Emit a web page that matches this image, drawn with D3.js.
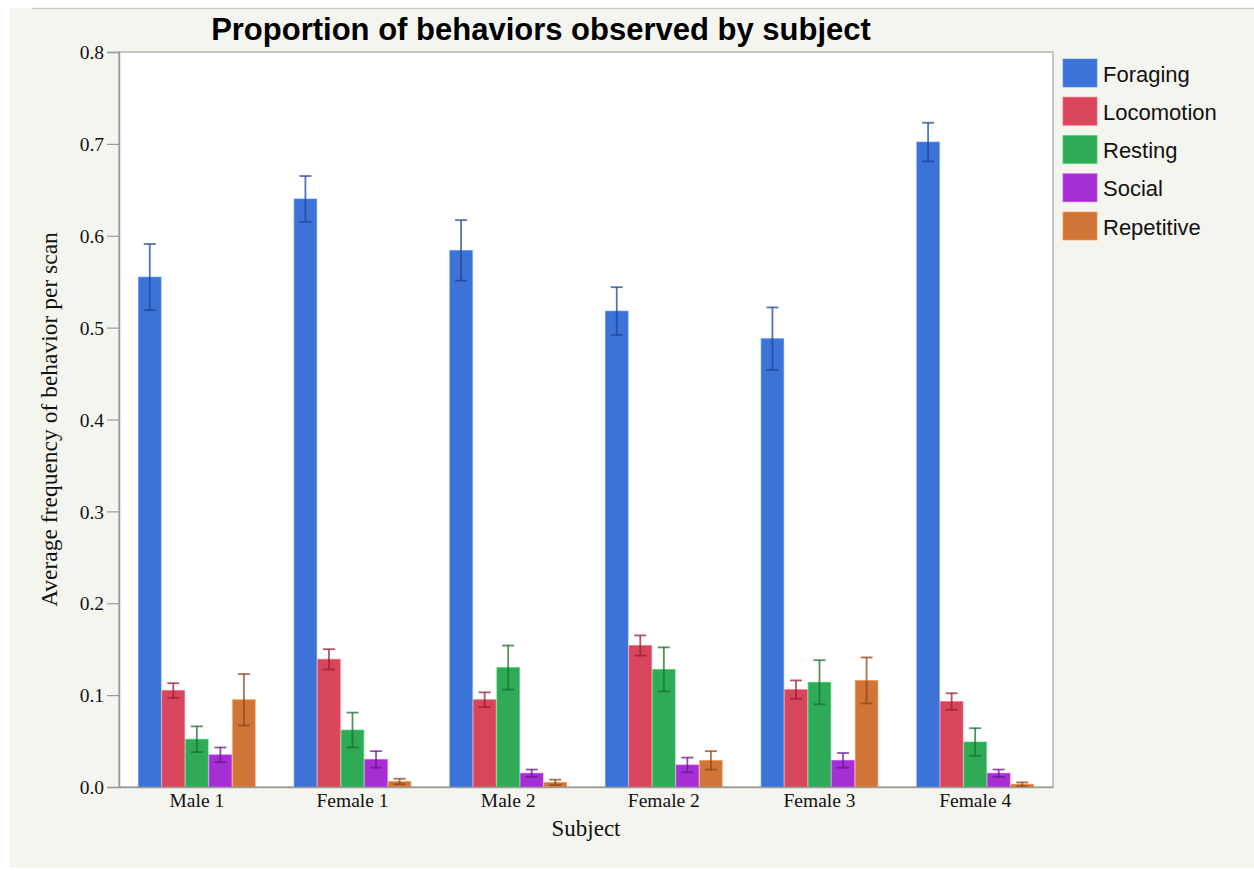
<!DOCTYPE html>
<html>
<head>
<meta charset="utf-8">
<script src="https://cdn.jsdelivr.net/npm/d3@7/dist/d3.min.js"></script>
<style>
  html, body { margin: 0; padding: 0; background: #ffffff; }
  svg { display: block; }
</style>
</head>
<body>
<svg id="chart" width="1254" height="871"></svg>
<script>
// Subjects on the x axis and behaviour categories within each group
const subjects = ["Male 1", "Female 1", "Male 2", "Female 2", "Female 3", "Female 4"];
const behaviors = ["Foraging", "Locomotion", "Resting", "Social", "Repetitive"];

// Mean proportion of scans per behaviour, one value per subject
const foraging   = [0.555, 0.640, 0.584, 0.518, 0.488, 0.702];
const locomotion = [0.105, 0.139, 0.095, 0.154, 0.106, 0.093];
const resting    = [0.052, 0.062, 0.130, 0.128, 0.114, 0.049];
const social     = [0.035, 0.030, 0.015, 0.024, 0.029, 0.015];
const repetitive = [0.095, 0.006, 0.005, 0.029, 0.116, 0.003];

// Standard error for each mean
const foragingErr   = [0.036, 0.025, 0.033, 0.026, 0.034, 0.021];
const locomotionErr = [0.008, 0.011, 0.008, 0.011, 0.010, 0.009];
const restingErr    = [0.014, 0.019, 0.024, 0.024, 0.024, 0.015];
const socialErr     = [0.008, 0.009, 0.004, 0.008, 0.008, 0.004];
const repetitiveErr = [0.028, 0.003, 0.003, 0.010, 0.025, 0.002];

// Y axis tick values
const yTicks = [0.0, 0.1, 0.2, 0.3, 0.4, 0.5, 0.6, 0.7, 0.8];

const seriesMeans = [foraging, locomotion, resting, social, repetitive];
const seriesErrs  = [foragingErr, locomotionErr, restingErr, socialErr, repetitiveErr];
const fills   = ["#3d72d7", "#d8465b", "#2faa56", "#a52fd3", "#d07538"];
const strokes = ["#1c469c", "#9c1c30", "#14702f", "#6a1590", "#8c4614"];

const rows = [];
subjects.forEach((s, i) => {
  behaviors.forEach((b, j) => {
    rows.push({ subject: s, behavior: b, value: seriesMeans[j][i], err: seriesErrs[j][i], k: j });
  });
});

const svg = d3.select("#chart");

// Page background panel
svg.append("rect").attr("x", 10).attr("y", 8).attr("width", 1244).attr("height", 860)
  .attr("fill", "#f5f5f0");
svg.append("line").attr("x1", 32).attr("x2", 1254).attr("y1", 8.5).attr("y2", 8.5)
  .attr("stroke", "#c9c9c6").attr("stroke-width", 1.5);

const plot = { left: 119, right: 1053, top: 52, bottom: 787 };

const x0 = d3.scaleBand().domain(subjects).range([plot.left, plot.right])
  .paddingInner(0.25).paddingOuter(0.125);
const x1 = d3.scaleBand().domain(behaviors).range([0, x0.bandwidth()]).paddingInner(0.04);
const y = d3.scaleLinear().domain([0, 0.8]).range([plot.bottom, plot.top]);

// Plot area
svg.append("rect").attr("x", plot.left).attr("y", plot.top)
  .attr("width", plot.right - plot.left).attr("height", plot.bottom - plot.top)
  .attr("fill", "#ffffff").attr("stroke", "#b4b4b4").attr("stroke-width", 1.5);

// Bars
const groups = svg.append("g").selectAll("g").data(subjects).join("g")
  .attr("transform", d => `translate(${x0(d)},0)`);

groups.selectAll("rect")
  .data(s => rows.filter(r => r.subject === s))
  .join("rect")
  .attr("x", d => x1(d.behavior))
  .attr("y", d => y(d.value))
  .attr("width", x1.bandwidth())
  .attr("height", d => y(0) - y(d.value))
  .attr("fill", d => fills[d.k])
  .attr("stroke", d => d3.color(fills[d.k]).brighter(0.6))
  .attr("stroke-opacity", 0.6)
  .attr("stroke-width", 1);

// Error bars
const eb = groups.selectAll("g.err")
  .data(s => rows.filter(r => r.subject === s))
  .join("g").attr("class", "err")
  .attr("stroke", d => strokes[d.k])
  .attr("stroke-opacity", 0.75)
  .attr("stroke-width", 1.8);

eb.append("line")
  .attr("x1", d => x1(d.behavior) + x1.bandwidth() / 2)
  .attr("x2", d => x1(d.behavior) + x1.bandwidth() / 2)
  .attr("y1", d => y(d.value + d.err))
  .attr("y2", d => y(Math.max(0, d.value - d.err)));
eb.append("line")
  .attr("x1", d => x1(d.behavior) + x1.bandwidth() / 2 - 6)
  .attr("x2", d => x1(d.behavior) + x1.bandwidth() / 2 + 6)
  .attr("y1", d => y(d.value + d.err))
  .attr("y2", d => y(d.value + d.err));
eb.append("line")
  .attr("x1", d => x1(d.behavior) + x1.bandwidth() / 2 - 6)
  .attr("x2", d => x1(d.behavior) + x1.bandwidth() / 2 + 6)
  .attr("y1", d => y(Math.max(0, d.value - d.err)))
  .attr("y2", d => y(Math.max(0, d.value - d.err)));

// Y axis
const yAxis = svg.append("g").attr("transform", `translate(${plot.left},0)`)
  .call(d3.axisLeft(y).tickValues(yTicks).tickFormat(d3.format(".1f")).tickSize(12).tickPadding(3));
yAxis.select(".domain").attr("stroke", "#9a9a9a").attr("stroke-width", 1.5);
yAxis.selectAll(".tick line").attr("stroke", "#9a9a9a").attr("stroke-width", 1.2);
yAxis.selectAll(".tick text")
  .attr("font-family", "'Liberation Serif', 'Times New Roman', serif")
  .attr("font-size", 19.5).attr("fill", "#111").attr("dy", "0.34em");

// X axis
const xAxis = svg.append("g").attr("transform", `translate(0,${plot.bottom})`)
  .call(d3.axisBottom(x0).tickSize(0).tickPadding(6));
xAxis.select(".domain").attr("stroke", "#9a9a9a").attr("stroke-width", 1.5);
xAxis.selectAll(".tick text")
  .attr("font-family", "'Liberation Serif', 'Times New Roman', serif")
  .attr("font-size", 19.5).attr("fill", "#111").attr("dy", "0.72em");

// Axis titles
svg.append("text").attr("x", (plot.left + plot.right) / 2).attr("y", 836)
  .attr("text-anchor", "middle")
  .attr("font-family", "'Liberation Serif', 'Times New Roman', serif")
  .attr("font-size", 23).attr("fill", "#111").text("Subject");

svg.append("text")
  .attr("transform", `translate(57,${(plot.top + plot.bottom) / 2}) rotate(-90)`)
  .attr("text-anchor", "middle")
  .attr("font-family", "'Liberation Serif', 'Times New Roman', serif")
  .attr("font-size", 23.5).attr("fill", "#111").text("Average frequency of behavior per scan");

// Title
const title = svg.append("text").attr("x", 541).attr("y", 40)
  .attr("text-anchor", "middle")
  .attr("font-family", "'Liberation Sans', Arial, Helvetica, sans-serif")
  .attr("font-weight", "bold").attr("font-size", 30).attr("fill", "#000")
  .text("Proportion of behaviors observed by subject");
const tw = title.node().getComputedTextLength();
title.attr("font-size", 30 * 660 / tw);

// Legend
const legend = svg.append("g").selectAll("g").data(behaviors).join("g")
  .attr("transform", (d, i) => `translate(1063,${59 + i * 38.25})`);
legend.append("rect").attr("width", 34).attr("height", 28)
  .attr("fill", (d, i) => fills[i])
  .attr("stroke", (d, i) => d3.color(fills[i]).brighter(0.6)).attr("stroke-opacity", 0.6);
legend.append("text").attr("x", 40).attr("y", 22.5)
  .attr("font-family", "'Liberation Sans', Arial, Helvetica, sans-serif")
  .attr("font-size", 22).attr("fill", "#111").text(d => d);
</script>
</body>
</html>
